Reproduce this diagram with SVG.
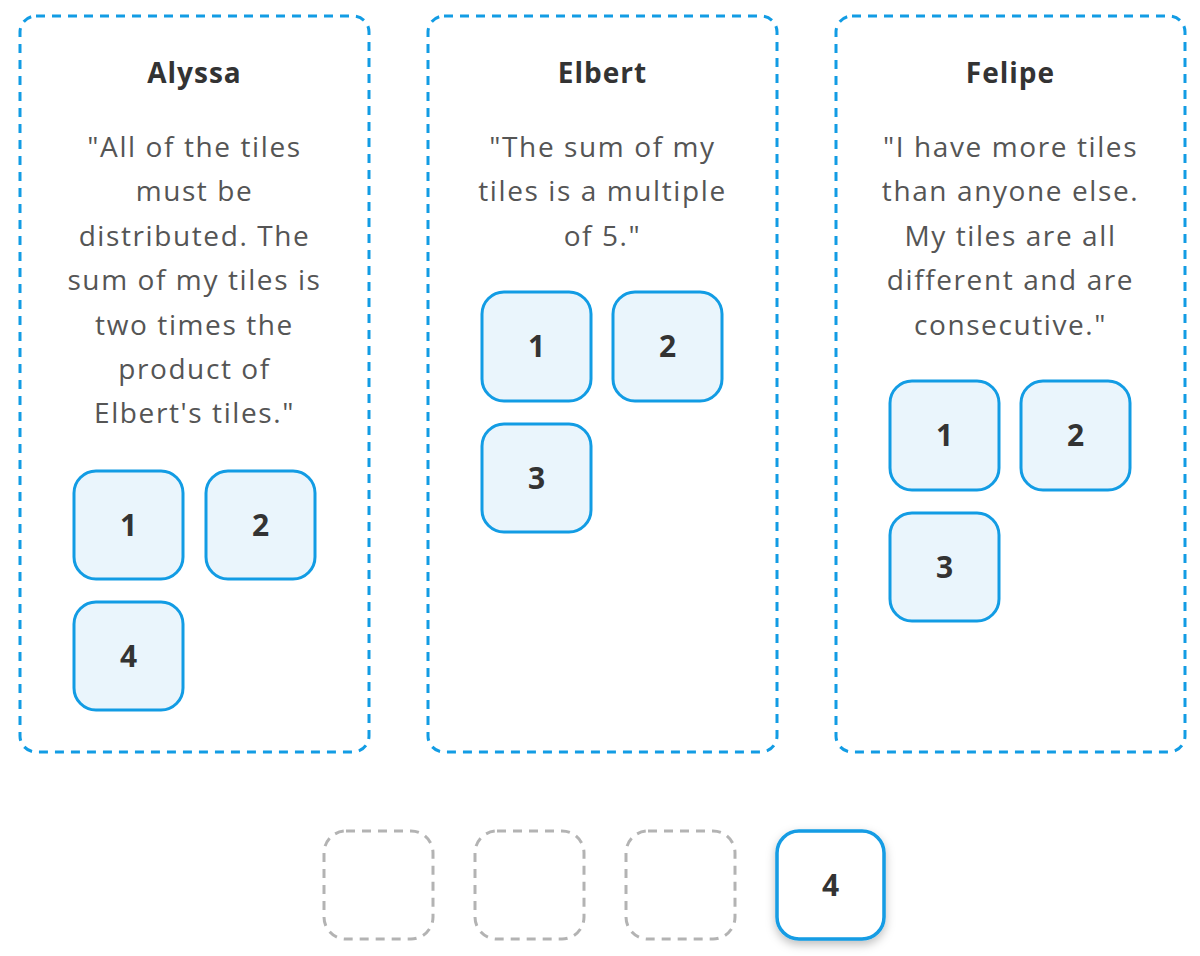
<svg xmlns="http://www.w3.org/2000/svg" width="1200" height="956" viewBox="0 0 1200 956">
<defs>
<style>
.card{fill:#fff;stroke:#129ce4;stroke-width:3;stroke-dasharray:9 7}
.tile{fill:#eaf5fc;stroke:#129ce4;stroke-width:3}
.tilew{fill:#fff;stroke:#129ce4;stroke-width:3.5}
.slot{fill:none;stroke:#b3b3b3;stroke-width:3;stroke-dasharray:9 7}
.title{font-family:"Open Sans","Liberation Sans",sans-serif;font-size:28px;font-weight:bold;fill:#333;text-anchor:middle;letter-spacing:1px}
.body{font-family:"Open Sans","Liberation Sans",sans-serif;font-size:28px;fill:#555;text-anchor:middle;letter-spacing:1.6px}
.num{font-family:"Open Sans","Liberation Sans",sans-serif;font-size:30px;font-weight:bold;fill:#333;text-anchor:middle}
</style>
<filter id="sh" x="-30%" y="-30%" width="160%" height="170%">
<feDropShadow dx="0" dy="4" stdDeviation="5" flood-color="#000" flood-opacity="0.25"/>
</filter>
</defs>
<g id="card-alyssa">
<rect class="card" x="20" y="16" width="349" height="736" rx="16"/>
<text class="title" x="194.5" y="83">Alyssa</text>
<text class="body" x="194.5" y="157">"All of the tiles</text>
<text class="body" x="194.5" y="201">must be</text>
<text class="body" x="194.5" y="246">distributed. The</text>
<text class="body" x="194.5" y="290">sum of my tiles is</text>
<text class="body" x="194.5" y="335">two times the</text>
<text class="body" x="194.5" y="379">product of</text>
<text class="body" x="194.5" y="423">Elbert's tiles."</text>
</g>
<g id="tile-a1"><rect class="tile" x="74" y="471" width="109" height="108" rx="22"/><text class="num" x="128.5" y="536">1</text></g>
<g id="tile-a2"><rect class="tile" x="206" y="471" width="109" height="108" rx="22"/><text class="num" x="260.5" y="536">2</text></g>
<g id="tile-a4"><rect class="tile" x="74" y="602" width="109" height="108" rx="22"/><text class="num" x="128.5" y="667">4</text></g>
<g id="card-elbert">
<rect class="card" x="428" y="16" width="349" height="736" rx="16"/>
<text class="title" x="602.5" y="83">Elbert</text>
<text class="body" x="602.5" y="157">"The sum of my</text>
<text class="body" x="602.5" y="201">tiles is a multiple</text>
<text class="body" x="602.5" y="246">of 5."</text>
</g>
<g id="tile-e1"><rect class="tile" x="482" y="292" width="109" height="109" rx="22"/><text class="num" x="536.5" y="357">1</text></g>
<g id="tile-e2"><rect class="tile" x="613" y="292" width="109" height="109" rx="22"/><text class="num" x="667.5" y="357">2</text></g>
<g id="tile-e3"><rect class="tile" x="482" y="424" width="109" height="108" rx="22"/><text class="num" x="536.5" y="489">3</text></g>
<g id="card-felipe">
<rect class="card" x="836" y="16" width="349" height="736" rx="16"/>
<text class="title" x="1010.5" y="83">Felipe</text>
<text class="body" x="1010.5" y="157">"I have more tiles</text>
<text class="body" x="1010.5" y="201">than anyone else.</text>
<text class="body" x="1010.5" y="246">My tiles are all</text>
<text class="body" x="1010.5" y="290">different and are</text>
<text class="body" x="1010.5" y="335">consecutive."</text>
</g>
<g id="tile-f1"><rect class="tile" x="890" y="381" width="109" height="109" rx="22"/><text class="num" x="944.5" y="446">1</text></g>
<g id="tile-f2"><rect class="tile" x="1021" y="381" width="109" height="109" rx="22"/><text class="num" x="1075.5" y="446">2</text></g>
<g id="tile-f3"><rect class="tile" x="890" y="513" width="109" height="108" rx="22"/><text class="num" x="944.5" y="578">3</text></g>
<g id="slot-1"><rect class="slot" x="324" y="831" width="109" height="108" rx="22"/></g>
<g id="slot-2"><rect class="slot" x="475" y="831" width="109" height="108" rx="22"/></g>
<g id="slot-3"><rect class="slot" x="626" y="831" width="109" height="108" rx="22"/></g>
<g id="tile-bank-4"><rect class="tilew" x="777" y="831" width="107" height="108" rx="22" filter="url(#sh)"/><text class="num" x="830.5" y="896">4</text></g>
<g id="connectors"></g>
</svg>
